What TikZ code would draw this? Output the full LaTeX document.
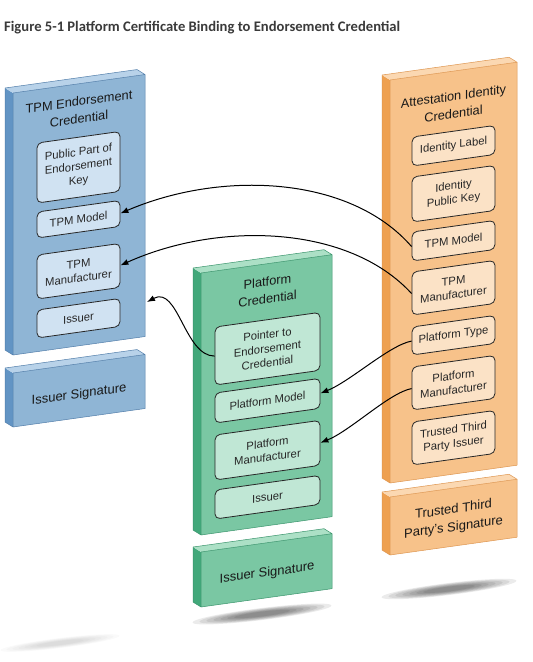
\documentclass[tikz,border=0pt]{standalone}
\usepackage{fontspec}
\setmainfont{Liberation Sans}
\newfontfamily\capfont{Carlito}
\usetikzlibrary{arrows.meta}

\definecolor{bluefront}{RGB}{143,181,213}
\definecolor{blueside}{RGB}{98,148,196}
\definecolor{bluetop}{RGB}{184,210,233}
\definecolor{blueinner}{RGB}{208,226,242}
\definecolor{blueedge}{RGB}{82,126,170}
\definecolor{greenfront}{RGB}{122,199,163}
\definecolor{greenside}{RGB}{66,168,122}
\definecolor{greentop}{RGB}{172,224,198}
\definecolor{greeninner}{RGB}{192,231,213}
\definecolor{greenedge}{RGB}{58,148,108}
\definecolor{orangefront}{RGB}{247,194,138}
\definecolor{orangeside}{RGB}{238,160,80}
\definecolor{orangetop}{RGB}{251,216,178}
\definecolor{orangeinner}{RGB}{251,226,198}
\definecolor{orangeedge}{RGB}{222,150,80}
\definecolor{capgray}{RGB}{58,58,58}

\newcommand\drawslab[7]{%
  \fill[#4] (0,#2) -- (0,#3) -- (-8,#3-6.1) -- (-8,#2-6.1) -- cycle;
  \fill[#5] (0,#2) -- (#1,#2) -- (#1-8,#2-6.1) -- (-8,#2-6.1) -- cycle;
  \fill[#6] (0,#2) rectangle (#1,#3);
  \draw[#7, line width=0.5pt, line join=round]
    (-8,#2-6.1) -- (-8,#3-6.1) -- (0,#3) -- (#1,#3) -- (#1,#2) -- (#1-8,#2-6.1) -- cycle
    (0,#2) -- (#1,#2) (0,#2) -- (0,#3);
}

\tikzset{
  inbox/.style={draw=black!85, line width=0.8pt, rounded corners=5pt, align=center,
    inner sep=0pt, transform shape, text=black!85,
    font=\fontsize{11.3}{14.2}\selectfont},
  ttl/.style={align=center, transform shape, inner sep=0pt, text=black!90,
    font=\fontsize{12.8}{17.5}\selectfont},
  sigtxt/.style={align=center, transform shape, inner sep=0pt, text=black!90,
    font=\fontsize{13}{18}\selectfont},
  link/.style={line width=1pt, black, -{Latex[length=8pt,width=6pt]}},
}

\begin{document}
\begin{tikzpicture}[x=1pt,y=-1pt]
\useasboundingbox (0,0) rectangle (533,662);
\fill[white] (0,0) rectangle (533,662);

% caption
\node[anchor=west, inner sep=0pt, text=capgray, font=\capfont\bfseries\fontsize{14.6}{17}\selectfont] (cap) at (4,28)
  {Figure 5-1 Platform Certificate Binding to Endorsement Credential};

% shadows
\foreach \i in {0,...,6} {
  \fill[black, opacity=0.08, rotate around={7:(262,614)}] (262,614) ellipse [x radius={(70-7*\i)*1pt}, y radius={(6-0.6*\i)*1pt}];
  \fill[black, opacity=0.08, rotate around={7:(449,589)}] (449,589) ellipse [x radius={(68-7*\i)*1pt}, y radius={(6-0.6*\i)*1pt}];
  \fill[black, opacity=0.02, rotate around={7:(60,643)}] (60,643) ellipse [x radius={(60-6*\i)*1pt}, y radius={(5-0.5*\i)*1pt}];
}

% ---------- blue column ----------
\begin{scope}[shift={(13,93)}, yslant=0.14]
  \drawslab{132}{0}{262}{blueside}{bluetop}{bluefront}{blueedge}
  \drawslab{132}{280}{334}{blueside}{bluetop}{bluefront}{blueedge}
  \node[ttl] (bT) at (66,26.4) {TPM Endorsement\\Credential};
  \node[inbox, fill=blueinner, minimum width=83pt, minimum height=60pt] (bPK) at (65.5,83.4) {Public Part of\\Endorsement\\Key};
  \node[inbox, fill=blueinner, minimum width=83pt, minimum height=26pt] (bTM) at (65.5,135.4) {TPM Model};
  \node[inbox, fill=blueinner, minimum width=83pt, minimum height=44pt] (bTMf) at (65.5,187.4) {TPM\\Manufacturer};
  \node[inbox, fill=blueinner, minimum width=83pt, minimum height=28pt] (bIs) at (65.5,234.4) {Issuer};
  \node[sigtxt] (bSig) at (66,311) {Issuer Signature};
  \coordinate (bIn) at (134,227.8);
\end{scope}

% ---------- green column ----------
\begin{scope}[shift={(201,273)}, yslant=0.14]
  \drawslab{131}{0}{262}{greenside}{greentop}{greenfront}{greenedge}
  \drawslab{131}{279}{334}{greenside}{greentop}{greenfront}{greenedge}
  \node[ttl] (gT) at (66.5,26.4) {Platform\\Credential};
  \node[inbox, fill=greeninner, minimum width=105pt, minimum height=58pt] (gPtr) at (66.5,85) {Pointer to\\Endorsement\\Credential};
  \node[inbox, fill=greeninner, minimum width=105pt, minimum height=30pt] (gPM) at (66.5,137) {Platform Model};
  \node[inbox, fill=greeninner, minimum width=105pt, minimum height=45pt] (gPMf) at (66.5,186.5) {Platform\\Manufacturer};
  \node[inbox, fill=greeninner, minimum width=105pt, minimum height=29pt] (gIs) at (66.5,233.5) {Issuer};
  \node[sigtxt] (gSig) at (66,309.4) {Issuer Signature};
\end{scope}

% ---------- orange column ----------
\begin{scope}[shift={(390,80)}, yslant=0.14]
  \drawslab{127}{0}{403}{orangeside}{orangetop}{orangefront}{orangeedge}
  \drawslab{127}{417}{475}{orangeside}{orangetop}{orangefront}{orangeedge}
  \node[ttl] (oT) at (63.5,33.8) {Attestation Identity\\Credential};
  \node[inbox, fill=orangeinner, minimum width=83pt, minimum height=29pt] (oIL) at (63.5,74.6) {Identity Label};
  \node[inbox, fill=orangeinner, minimum width=83pt, minimum height=45pt] (oIPK) at (63.5,122.6) {Identity\\Public Key};
  \node[inbox, fill=orangeinner, minimum width=83pt, minimum height=29pt] (oTM) at (63.5,169.6) {TPM Model};
  \node[inbox, fill=orangeinner, minimum width=83pt, minimum height=43pt] (oTMf) at (63.5,216.6) {TPM\\Manufacturer};
  \node[inbox, fill=orangeinner, minimum width=83pt, minimum height=28pt] (oPT) at (63.5,264.1) {Platform Type};
  \node[inbox, fill=orangeinner, minimum width=83pt, minimum height=43pt] (oPMf) at (63.5,311.6) {Platform\\Manufacturer};
  \node[inbox, fill=orangeinner, minimum width=83pt, minimum height=43pt] (oTTP) at (63.5,366.6) {Trusted Third\\Party Issuer};
  \node[sigtxt] (oSig) at (63.5,447.8) {Trusted Third\\Party's Signature};
\end{scope}

% ---------- connectors ----------
\draw[link] (oTM.west) .. controls +(-62,-71.5) and +(100,-43) .. (bTM.east);
\draw[link] (oTMf.west) .. controls +(-62,-68) and +(100,-45) .. (bTMf.east);
\draw[link] (gPtr.west) .. controls +(-30,0) and +(31,-17) .. (bIn);
\draw[link] (oPT.west) .. controls +(-22,4) and +(30,-12) .. (gPM.east);
\draw[link] (oPMf.west) .. controls +(-22,4) and +(30,-12) .. (gPMf.east);
\end{tikzpicture}
\end{document}
